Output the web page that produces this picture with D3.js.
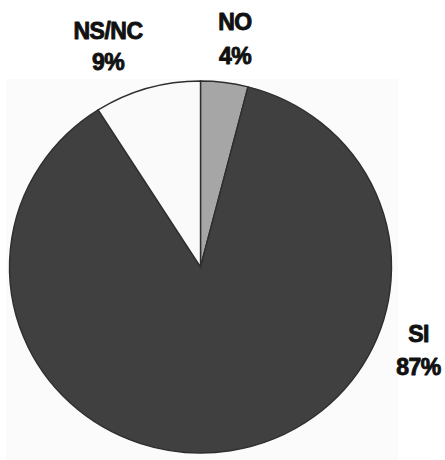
<!DOCTYPE html>
<html>
<head>
<meta charset="utf-8">
<script src="https://cdn.jsdelivr.net/npm/d3@7"></script>
<style>
  html, body { margin: 0; padding: 0; background: #ffffff; }
  svg { display: block; }
</style>
</head>
<body>
<div id="chart"></div>
<script>
const categories = ["NO", "SI", "NS/NC"];
const values = [4, 87, 9];
const labels = ["4%", "87%", "9%"];
const colors = ["#a6a6a6", "#404040", "#fafafa"];

const W = 445, H = 460;
const cx = 200.5, cy = 267, r = 191, ry = 186;

const svg = d3.select("#chart").append("svg")
  .attr("width", W).attr("height", H);

svg.append("rect")
  .attr("x", 6).attr("y", 79).attr("width", 392).attr("height", 381)
  .attr("fill", "#fbfbfb");

const pie = d3.pie().sort(null).value(d => d)(values);
const arc = d3.arc().innerRadius(0).outerRadius(r);

const g = svg.append("g")
  .attr("transform", `translate(${cx},${cy}) scale(1,${ry / r})`);

g.selectAll("path")
  .data(pie)
  .join("path")
  .attr("d", arc)
  .attr("fill", (d, i) => colors[i])
  .attr("stroke", "#2e2e2e")
  .attr("stroke-width", 1.4)
  .attr("vector-effect", "non-scaling-stroke");

// label positions (name baseline, value baseline)
const labelPos = [
  { x: 235, y1: 29.5, y2: 63.5 },
  { x: 418.5, y1: 342, y2: 375 },
  { x: 108, y1: 38.5, y2: 69.5 }
];

const lg = svg.append("g")
  .attr("font-family", "'Liberation Sans', Arial, sans-serif")
  .attr("font-weight", "bold")
  .attr("font-size", 23)
  .attr("fill", "#111")
  .attr("stroke", "#111")
  .attr("stroke-width", 0.9)
  .attr("stroke-linejoin", "round")
  .attr("text-anchor", "middle");

categories.forEach((c, i) => {
  lg.append("text").attr("x", labelPos[i].x).attr("y", labelPos[i].y1)
    .attr("letter-spacing", -0.5).text(c);
  lg.append("text").attr("x", labelPos[i].x).attr("y", labelPos[i].y2)
    .attr("letter-spacing", -0.5).text(labels[i]);
});
</script>
</body>
</html>
